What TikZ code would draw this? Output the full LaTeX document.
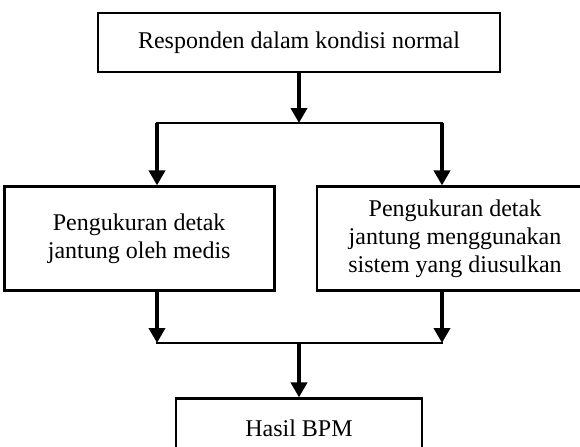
\documentclass[tikz,border=0pt]{standalone}
\usepackage{fontspec}
\setmainfont{Liberation Serif}
\usetikzlibrary{arrows.meta,positioning}

\begin{document}
\begin{tikzpicture}[
    block/.style={draw, line width=1.4pt, align=center, font=\fontsize{12}{14}\selectfont, inner sep=2pt},
    panah/.style={-{Triangle[length=7.5pt,width=8pt]}, line width=2pt},
    garis/.style={line width=1.2pt, line cap=rect}
]
    % Area gambar
    \fill[white] (0,0) rectangle (290pt,-223pt);
    \useasboundingbox (0,0) rectangle (290pt,-223pt);

    % Responden
    \node[block, minimum width=201pt, minimum height=29.5pt] (respon) at (149.5pt,-21.25pt) {Responden dalam kondisi normal};

    % Pengukuran
    \node[block, minimum width=135pt, minimum height=52pt, below left=56pt and -89.5pt of respon] (medis) {Pengukuran detak\\jantung oleh medis};
    \node[block, minimum width=138pt, minimum height=52pt, right=20pt of medis] (sistem) {Pengukuran detak\\jantung menggunakan\\sistem yang diusulkan};

    % Hasil
    \node[block, minimum width=123pt, minimum height=29.5pt, below=162pt of respon] (hasil) {Hasil BPM};

    % Titik cabang
    \coordinate (kiri1) at (78.5pt,-61.5pt);
    \coordinate (kanan1) at (221pt,-61.5pt);
    \coordinate (kiri2) at (78.5pt,-171.5pt);
    \coordinate (kanan2) at (221pt,-171.5pt);

    % Arrows
    \draw[panah] (respon.south) -- (respon.south |- kiri1);
    \draw[garis] (kiri1) -- (kanan1);
    \draw[panah] (kiri1) -- (kiri1 |- medis.north);
    \draw[panah] (kanan1) -- (kanan1 |- sistem.north);
    \draw[panah] (medis.south -| kiri2) -- (kiri2);
    \draw[panah] (sistem.south -| kanan2) -- (kanan2);
    \draw[garis] (kiri2) -- (kanan2);
    \draw[panah] (hasil.north |- kiri2) -- (hasil.north);

\end{tikzpicture}
\end{document}
